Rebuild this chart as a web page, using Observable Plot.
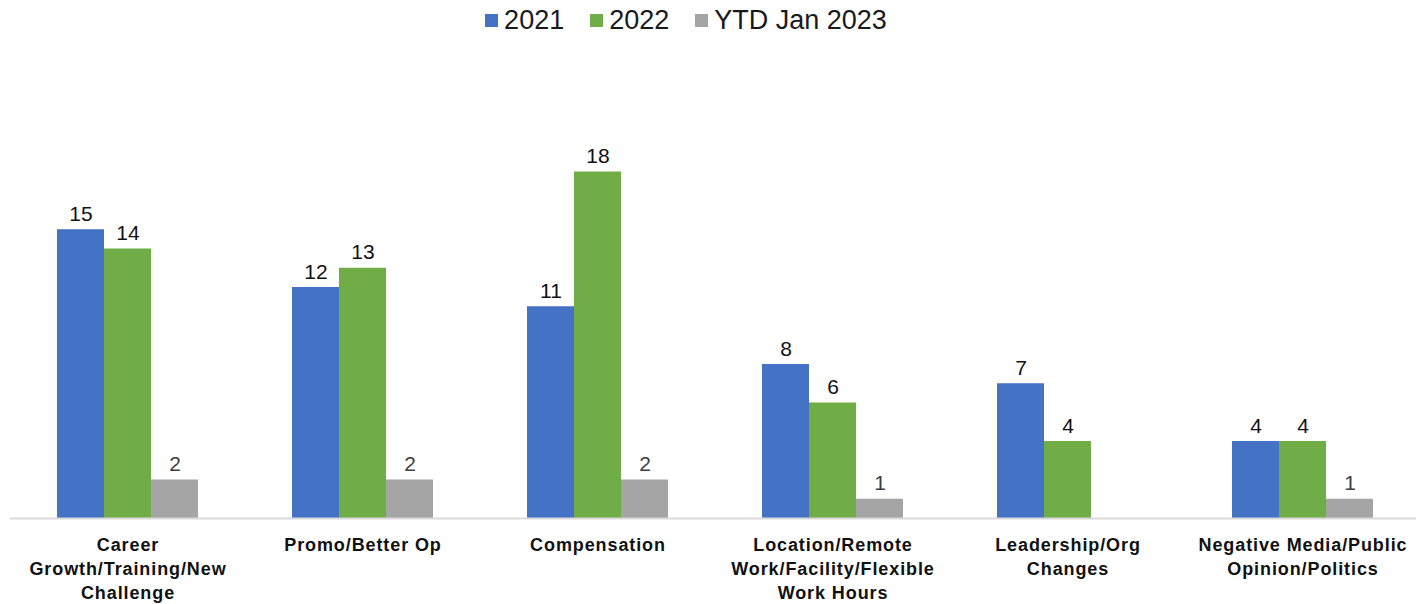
<!DOCTYPE html>
<html>
<head>
<meta charset="utf-8">
<script src="https://cdn.jsdelivr.net/npm/d3@7"></script>
<script src="https://cdn.jsdelivr.net/npm/@observablehq/plot@0.6"></script>
<style>
  body { margin: 0; background: #fff; font-family: "Liberation Sans", Arial, sans-serif; }
  #legend { height: 40px; display: flex; justify-content: center; align-items: center; padding-right: 44px; box-sizing: border-box; font-size: 27px; color: #1a1a1a; }
  .item { display: flex; align-items: center; margin: 0 13px; }
  .sw { width: 13px; height: 13px; margin-right: 6px; }
  g[aria-label="fx-axis tick label"] text { letter-spacing: 0.9px; }
</style>
</head>
<body>
<div id="legend"></div>
<div id="chart"></div>
<script>
const categories = [
  "Career\nGrowth/Training/New\nChallenge",
  "Promo/Better Op",
  "Compensation",
  "Location/Remote\nWork/Facility/Flexible\nWork Hours",
  "Leadership/Org\nChanges",
  "Negative Media/Public\nOpinion/Politics"
];
const series = ["2021", "2022", "YTD Jan 2023"];
const colors = ["#4472C4", "#70AD47", "#A5A5A5"];
const values2021 = [15, 12, 11, 8, 7, 4];
const values2022 = [14, 13, 18, 6, 4, 4];
const valuesYTD2023 = [2, 2, 2, 1, 0, 1];

const seriesValues = [values2021, values2022, valuesYTD2023];
const data = [];
categories.forEach((c, i) => {
  series.forEach((s, j) => data.push({category: c, series: s, value: seriesValues[j][i]}));
});

const legend = document.getElementById("legend");
series.forEach((s, j) => {
  const it = document.createElement("div");
  it.className = "item";
  it.innerHTML = `<div class="sw" style="background:${colors[j]}"></div><span>${s}</span>`;
  legend.appendChild(it);
});

const chart = Plot.plot({
  width: 1416,
  height: 564,
  marginLeft: 10,
  marginRight: -4,
  marginTop: 93,
  marginBottom: 86,
  style: {fontFamily: '"Liberation Sans", Arial, sans-serif', background: "#fff", overflow: "hidden"},
  fx: {domain: categories, padding: 0, label: null, round: false},
  x: {domain: series, paddingInner: 0, paddingOuter: 1, axis: null, round: false},
  y: {domain: [0, 20], axis: null},
  color: {domain: series, range: colors},
  marks: [
    Plot.barY(data, {fx: "category", x: "series", y: "value", fill: "series", inset: 0}),
    Plot.ruleY([0], {stroke: "#D9D9D9", strokeWidth: 2}),
    Plot.text(data.filter(d => d.value > 0), {
      fx: "category", x: "series", y: "value", text: d => String(d.value),
      lineAnchor: "bottom", dy: -9, fontSize: 21,
      fill: d => d.series === "YTD Jan 2023" ? "#404040" : "#111"
    }),
    Plot.axisFx({
      anchor: "bottom",
      tickSize: 0, tickPadding: 15, fontSize: 18, fontWeight: "bold",
      lineHeight: 1.333, label: null, fill: "#111"
    })
  ]
});
document.getElementById("chart").appendChild(chart);
</script>
</body>
</html>
